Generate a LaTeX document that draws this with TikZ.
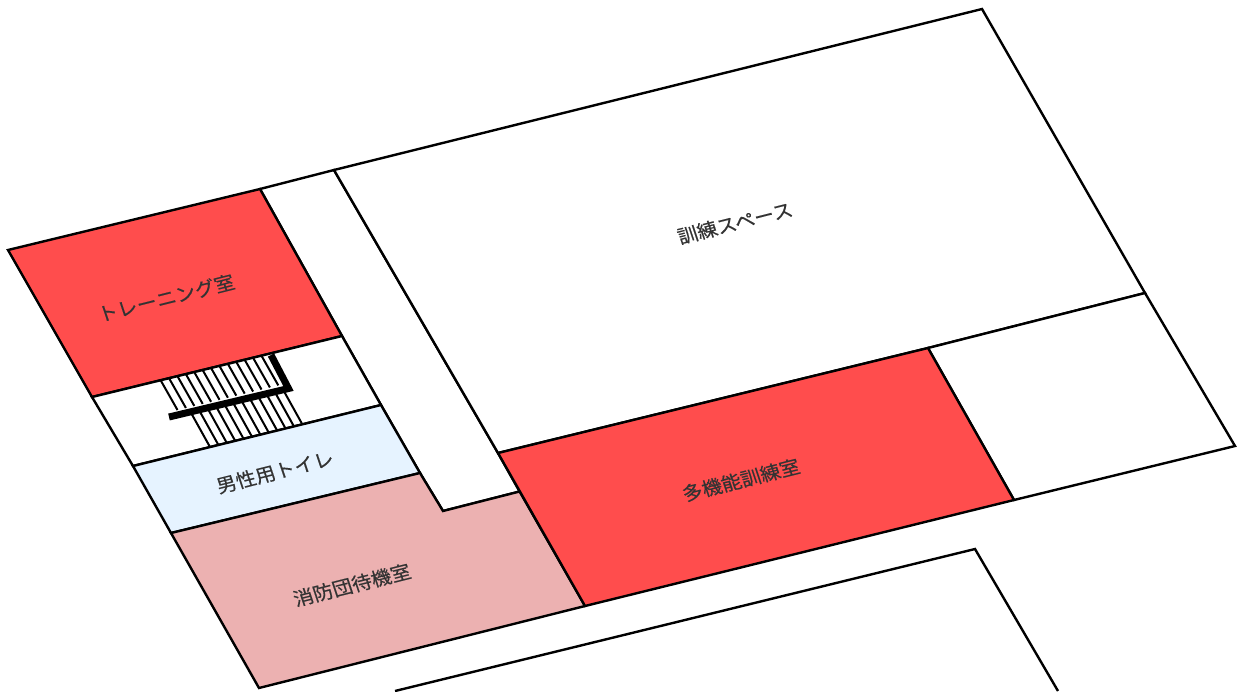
\documentclass[tikz,border=0pt]{standalone}
\usepackage{fontspec}
\newfontfamily\cjkfont[FakeBold=0.4]{Noto Sans CJK JP}
\definecolor{roomred}{HTML}{FF4D4D}
\definecolor{roompink}{HTML}{ECB1B1}
\definecolor{roomblue}{HTML}{E6F3FF}
\definecolor{labelgray}{HTML}{333333}
\tikzset{
  wall/.style={draw=black,line width=2.4pt,line join=miter},
  tread/.style={draw=black,line width=2pt},
  stairbar/.style={draw=black,line width=7pt,line join=miter},
  roomlabel/.style={transform shape,cm={.97,.243,-.30,.90,(0,0)},inner sep=0pt,text=labelgray,font=\cjkfont\fontsize{20}{20}\selectfont},
}
\newcommand{\roomtext}[4]{\begin{scope}[shift={(#2,#3)}]\node[roomlabel] (#1) at (0,0) {#4};\end{scope}}
\begin{document}
\begin{tikzpicture}[x=1pt,y=-1pt]
\useasboundingbox (0,0) rectangle (1242,691);
\fill[white] (0,0) rectangle (1242,691);
\begin{scope}
\clip (0,0) rectangle (1242,691);
% rooms
\path[wall,fill=white] (260,189) -- (334,170) -- (498,453) -- (519.6,491.5) -- (443,511) -- (420,473) -- (381,405) -- (342,336) -- cycle;
\path[wall,fill=white] (334,170) -- (982,9) -- (1145,293) -- (928,348) -- (498,453) -- cycle;
\path[wall,fill=white] (928,348) -- (1145,293) -- (1235,446) -- (1014,500) -- cycle;
\path[wall,fill=roomred] (8,250) -- (260,189) -- (342,336) -- (92,397) -- cycle;
\path[wall,fill=white] (92,397) -- (342,336) -- (381,405) -- (133,466) -- cycle;
\path[wall,fill=roomblue] (133,466) -- (381,405) -- (420,473) -- (171,533) -- cycle;
\path[wall,fill=roompink] (171,533) -- (420,473) -- (443,511) -- (519.6,491.5) -- (585,606) -- (259,688) -- cycle;
\path[wall,fill=roomred] (498,453) -- (928,348) -- (1014,500) -- (585,606) -- cycle;
% next building
\path[wall] (395,691) -- (975,549) -- (1058,691);
% stairs: upper flight
\foreach \i in {0,...,12}{
  \draw[tread] ({160.5+\i*8.4},{380-\i*2.05}) -- ({177.5+\i*8.4},{410-\i*2.05});
}
% stairs: lower flight
\foreach \i in {0,...,11}{
  \draw[tread] ({190+\i*8.4},{411-\i*2.05}) -- ({210+\i*8.4},{447-\i*2.05});
}
\draw[stairbar] (169,417) -- (288.5,388.5) -- (271,355);
\end{scope}
% labels
\roomtext{training}{166}{298}{トレーニング室}
\roomtext{space}{735}{223}{訓練スペース}
\roomtext{multi}{741}{480}{多機能訓練室}
\roomtext{toilet}{275}{472}{男性用トイレ}
\roomtext{standby}{352}{585}{消防団待機室}
\end{tikzpicture}
\end{document}
